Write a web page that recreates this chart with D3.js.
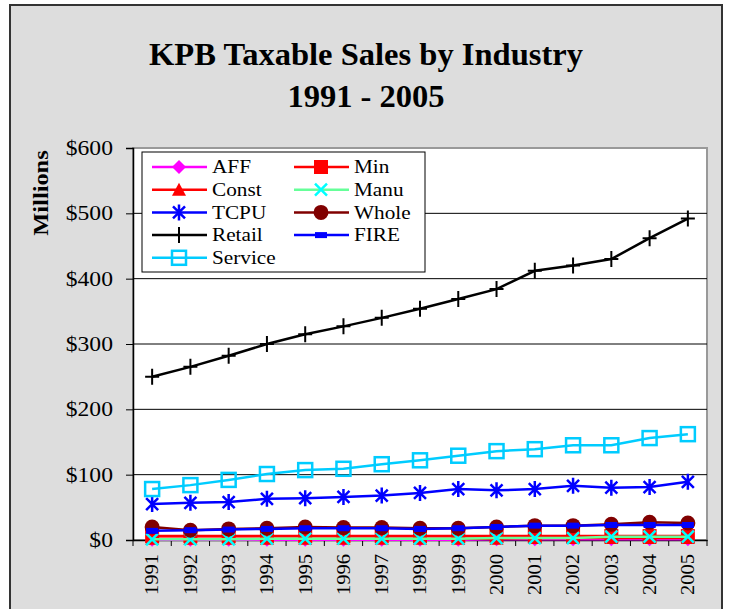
<!DOCTYPE html>
<html>
<head>
<meta charset="utf-8">
<script src="https://cdn.jsdelivr.net/npm/d3@7"></script>
<style>
    body { margin: 0; background: #fff; }
    text { font-family: "Liberation Serif", "Times New Roman", serif; fill: #000; }
</style>
</head>
<body>
<svg id="chart"></svg>
<script>
// data ($ millions)
var years = ["1991", "1992", "1993", "1994", "1995", "1996", "1997", "1998",
    "1999", "2000", "2001", "2002", "2003", "2004", "2005"];
var aff = [0.5, 0.5, 0.5, 0.5, 0.5, 0.5, 0.5, 0.5, 0.5, 1, 1, 1, 1, 1, 1];
var min = [6, 6, 6, 6, 6, 6, 6, 6, 6, 6, 6, 6, 6, 6, 6];
var constr = [2, 2, 2, 2, 2, 2, 2, 2, 2, 2, 3, 3, 3, 3, 3];
var manu = [1, 1, 1, 2, 2, 2, 2, 2, 2, 3, 3, 3, 5, 5, 5];
var tcpu = [55, 57, 58, 63, 64, 66, 68, 72, 78, 76, 78, 83, 80, 81, 89];
var whole = [20, 15, 17, 18, 20, 19, 19, 18, 18, 20, 22, 22, 24, 27, 26];
var retail = [250, 265, 282, 300, 315, 327, 340, 354, 369, 384, 412, 420, 430, 462, 492];
var fire = [14, 15, 16, 17, 18, 18, 18, 17, 18, 20, 22, 22, 23, 23, 23];
var service = [78, 84, 92, 101, 107, 109, 116, 122, 129, 136, 139, 145, 145, 156, 162];
var yTicks = [0, 100, 200, 300, 400, 500, 600];

var series = [
    {name: "AFF", values: aff, line: "#FF00FF", marker: "diamond"},
    {name: "Min", values: min, line: "#FF0000", marker: "square"},
    {name: "Const", values: constr, line: "#FF0000", marker: "triangle"},
    {name: "Manu", values: manu, line: "#66FF99", marker: "x", markerColor: "#00FFFF"},
    {name: "TCPU", values: tcpu, line: "#0000FF", marker: "star"},
    {name: "Whole", values: whole, line: "#800000", marker: "circle"},
    {name: "Retail", values: retail, line: "#000000", marker: "plus"},
    {name: "FIRE", values: fire, line: "#0000FF", marker: "dash"},
    {name: "Service", values: service, line: "#00CCFF", marker: "opensquare"}
];

// the original chart text is a bit wider than the installed serif font
var STRETCH = 1.18;

var W = 730, H = 609;
var svg = d3.select("#chart").attr("width", W).attr("height", H);

// outer panel
svg.append("rect")
    .attr("x", 10).attr("y", 5).attr("width", 712).attr("height", 640)
    .attr("fill", "#DDDDDD").attr("stroke", "#333").attr("stroke-width", 2);

svg.append("text")
    .attr("transform", "translate(366,65) scale(1.05,1)")
    .attr("text-anchor", "middle").attr("font-weight", "bold").attr("font-size", 31)
    .text("KPB Taxable Sales by Industry");
svg.append("text")
    .attr("transform", "translate(366,107) scale(1.05,1)")
    .attr("text-anchor", "middle").attr("font-weight", "bold").attr("font-size", 31)
    .text("1991 - 2005");

var plot = {left: 133, top: 148, right: 707, bottom: 540};

var x = d3.scaleBand().domain(years).range([plot.left, plot.right]).padding(0);
var y = d3.scaleLinear().domain([0, 600]).range([plot.bottom, plot.top]);

svg.append("rect")
    .attr("x", plot.left).attr("y", plot.top)
    .attr("width", plot.right - plot.left).attr("height", plot.bottom - plot.top)
    .attr("fill", "#fff").attr("stroke", "#999").attr("stroke-width", 2);

// gridlines
svg.append("g").selectAll("line")
    .data(yTicks.filter(function (d) { return d > 0 && d < 600; }))
    .enter().append("line")
    .attr("x1", plot.left).attr("x2", plot.right)
    .attr("y1", function (d) { return y(d); }).attr("y2", function (d) { return y(d); })
    .attr("stroke", "#000").attr("stroke-width", 1);

// y axis (label x = tickSize + padding, then stretched)
var yAxis = svg.append("g")
    .attr("transform", "translate(" + plot.left + ",0)")
    .call(d3.axisLeft(y).tickValues(yTicks).tickSize(7).tickPadding(10)
        .tickFormat(function (d) { return "$" + d; }));
yAxis.select(".domain").attr("stroke", "#000").attr("stroke-width", 1.5);
yAxis.selectAll(".tick line").attr("stroke", "#000");
yAxis.selectAll("text")
    .attr("font-size", 20).attr("font-family", "Liberation Serif").attr("fill", "#000")
    .attr("transform", "scale(" + STRETCH + ",1)");

svg.append("text")
    .attr("transform", "translate(48,193) rotate(-90) scale(1.22,1)")
    .attr("text-anchor", "middle").attr("font-weight", "bold").attr("font-size", 20)
    .text("Millions");

// x axis
var xAxis = svg.append("g")
    .attr("transform", "translate(0," + plot.bottom + ")")
    .call(d3.axisBottom(x).tickSize(0).tickPadding(0));
xAxis.select(".domain").attr("stroke", "#000").attr("stroke-width", 1.5);
xAxis.selectAll("text")
    .attr("font-size", 18).attr("font-family", "Liberation Serif").attr("fill", "#000")
    .attr("text-anchor", "end").attr("dy", "0.35em")
    .attr("transform", "translate(0,14) rotate(-90) scale(1.14,1)");
xAxis.append("g").selectAll("line")
    .data(years.concat(["end"]))
    .enter().append("line")
    .attr("x1", function (d, i) { return plot.left + i * x.bandwidth(); })
    .attr("x2", function (d, i) { return plot.left + i * x.bandwidth(); })
    .attr("y1", 0).attr("y2", 6)
    .attr("stroke", "#000");

function drawMarker(g, type, color) {
    switch (type) {
        case "diamond":
            g.append("path").attr("d", "M0,-7L7,0L0,7L-7,0Z").attr("fill", color);
            break;
        case "square":
            g.append("rect").attr("x", -7).attr("y", -7).attr("width", 14).attr("height", 14).attr("fill", color);
            break;
        case "triangle":
            g.append("path").attr("d", "M0,-7L7,6L-7,6Z").attr("fill", color);
            break;
        case "x":
            g.append("path").attr("d", "M-6,-6L6,6M-6,6L6,-6").attr("stroke", color).attr("stroke-width", 2.5);
            break;
        case "star":
            g.append("path").attr("d", "M-6,-6L6,6M-6,6L6,-6M0,-8L0,8").attr("stroke", color).attr("stroke-width", 2.5);
            break;
        case "circle":
            g.append("circle").attr("r", 7.5).attr("fill", color);
            break;
        case "plus":
            g.append("path").attr("d", "M-7,0L7,0M0,-8L0,8").attr("stroke", color).attr("stroke-width", 2);
            break;
        case "dash":
            g.append("rect").attr("x", -6).attr("y", -3).attr("width", 12).attr("height", 6).attr("fill", color);
            break;
        case "opensquare":
            g.append("rect").attr("x", -7).attr("y", -7).attr("width", 14).attr("height", 14)
                .attr("fill", "none").attr("stroke", color).attr("stroke-width", 2.5);
            break;
    }
}

var line = d3.line()
    .x(function (d, i) { return x(years[i]) + x.bandwidth() / 2; })
    .y(function (d) { return y(d); });

series.forEach(function (s) {
    var g = svg.append("g");
    g.append("path").datum(s.values)
        .attr("d", line).attr("fill", "none")
        .attr("stroke", s.line).attr("stroke-width", 2.5);
    s.values.forEach(function (v, i) {
        var m = g.append("g")
            .attr("transform", "translate(" + (x(years[i]) + x.bandwidth() / 2) + "," + y(v) + ")");
        drawMarker(m, s.marker, s.markerColor || s.line);
    });
});

// legend
var legend = svg.append("g");
legend.append("rect")
    .attr("x", 142).attr("y", 152).attr("width", 283).attr("height", 120)
    .attr("fill", "#fff").attr("stroke", "#000").attr("stroke-width", 1);
series.forEach(function (s, i) {
    var col = i % 2, row = Math.floor(i / 2);
    var lx = col === 0 ? 152 : 294, ly = 167 + row * 22.7;
    var item = legend.append("g").attr("transform", "translate(" + lx + "," + ly + ")");
    item.append("line").attr("x1", 0).attr("x2", 55).attr("y1", 0).attr("y2", 0)
        .attr("stroke", s.line).attr("stroke-width", 2.5);
    drawMarker(item.append("g").attr("transform", "translate(27,0)"), s.marker, s.markerColor || s.line);
    item.append("text")
        .attr("transform", "translate(60,0) scale(" + STRETCH + ",1)")
        .attr("dy", "0.35em").attr("font-size", 18).text(s.name);
});
</script>
</body>
</html>
